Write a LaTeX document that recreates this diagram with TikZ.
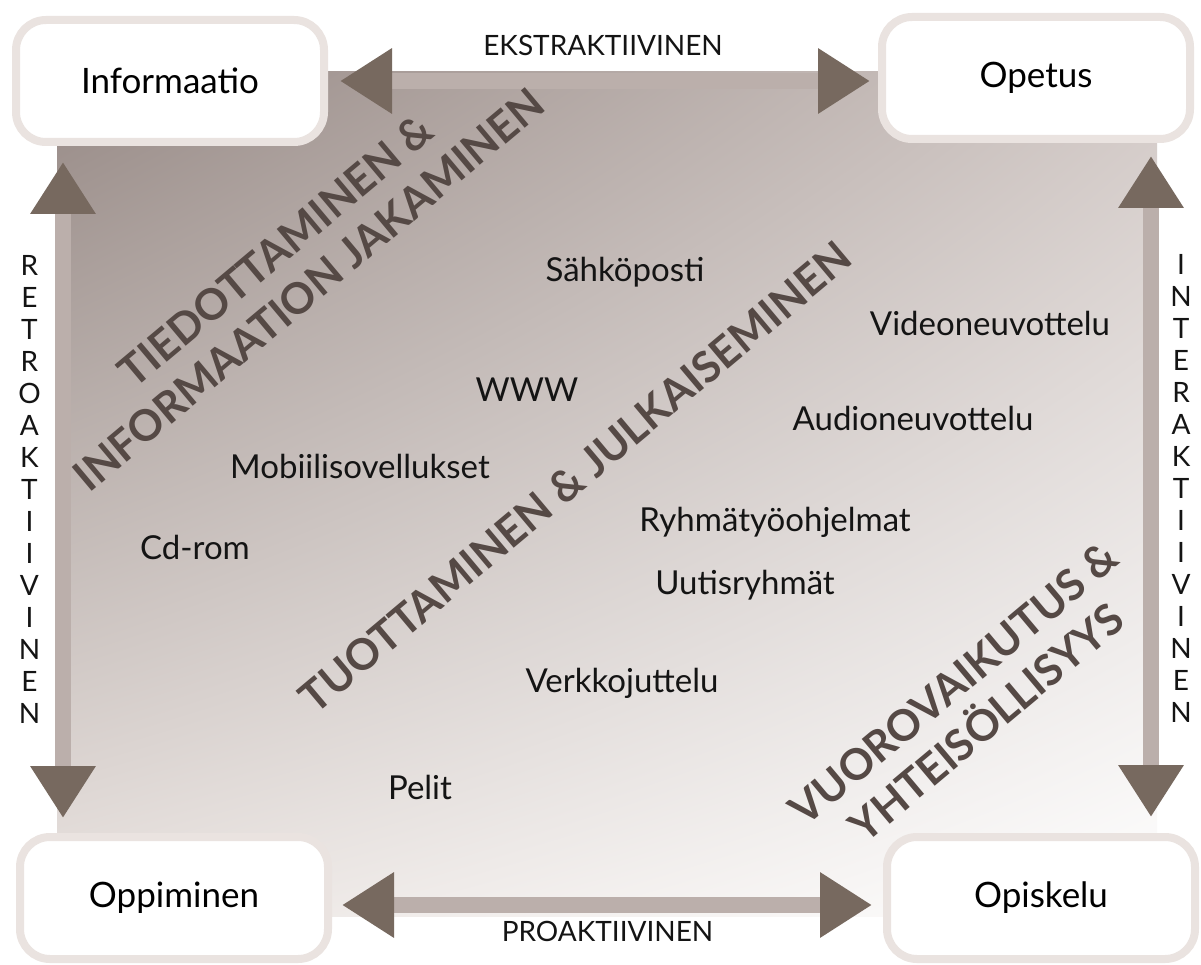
\documentclass[tikz,border=0pt]{standalone}
\usepackage{fontspec}
\setmainfont{Lato}
\usepackage{xcolor}
\usetikzlibrary{arrows.meta,shadings}

\definecolor{boxline}{HTML}{EAE3E0}
\definecolor{headc}{HTML}{77695F}
\definecolor{barc}{HTML}{BBAFAB}
\definecolor{diagc}{HTML}{554945}
\definecolor{bgTL}{HTML}{968985}
\definecolor{bgTR}{HTML}{D2C9C6}
\definecolor{bgBL}{HTML}{EAE4E1}

\begin{document}
\begin{tikzpicture}[x=1pt, y=-1pt,
  corner/.style={draw=boxline, line width=8pt, fill=white, rounded corners=30pt,
    minimum width=308pt, minimum height=122pt, font=\fontsize{35}{40}\selectfont},
  item/.style={font=\fontsize{33}{38}\selectfont, text=black!92},
  theme/.style={rotate=40, align=center, text=diagc, font=\fontsize{43}{51}\selectfont\bfseries},
  flow/.style={draw=barc, line width=16pt,
    {Triangle[length=52pt,width=62pt,color=headc]}-{Triangle[length=52pt,width=62pt,color=headc]}},
  axis/.style={font=\fontsize{28}{32}\selectfont, text=black!92},
  vaxis/.style={font=\fontsize{28}{32}\selectfont, text=black!92, align=center}]

\useasboundingbox[fill=white] (0,0) rectangle (1201,965);
\shade[upper left=bgTL, upper right=bgTR, lower left=bgBL, lower right=white] (57,72) rectangle (1157,916);

\node[corner] (info) at (170,81) {Informaatio};
\node[corner] (opetus) at (1036,78) {Opetus};
\node[corner] (oppi) at (174,898) {Oppiminen};
\node[corner] (opis) at (1041,898) {Opiskelu};

\draw[flow, shorten <=12pt, shorten >=8pt] (info.east) -- (info.east -| opetus.west)
    node[midway, above=14pt, axis] (ekstra) {EKSTRAKTIIVINEN};
\draw[flow, shorten <=10pt, shorten >=11pt] ([yshift=-7pt]oppi.east) -- ([yshift=-7pt]oppi.east -| opis.west)
    node[midway, below=5pt, axis] (pro) {PROAKTIIVINEN};
\draw[flow, shorten <=16pt, shorten >=15pt] ([xshift=51pt]info.south west) -- ([xshift=51pt]info.south west |- oppi.north)
    node[midway, left=11pt, vaxis] (retro) {R\\E\\T\\R\\O\\A\\K\\T\\I\\I\\V\\I\\N\\E\\N};
\draw[flow, shorten <=13pt, shorten >=16pt] ([xshift=-43pt]opetus.south east) -- ([xshift=-43pt]opetus.south east |- opis.north)
    node[midway, right=8pt, vaxis] (inter) {I\\N\\T\\E\\R\\A\\K\\T\\I\\I\\V\\I\\N\\E\\N};

\node[theme] (tiedot) at (292,270) {TIEDOTTAMINEN \&\\INFORMAATION JAKAMINEN};
\node[theme] (tuotto) at (575,477) {TUOTTAMINEN \& JULKAISEMINEN};
\node[theme] (vuoro) at (970,703) {VUOROVAIKUTUS \&\\YHTEISÖLLISYYS};

\node[item] (sposti) at (625,272) {Sähköposti};
\node[item] (video) at (990,323) {Videoneuvottelu};
\node[item] (www) at (527,390) {WWW};
\node[item] (audio) at (913,418) {Audioneuvottelu};
\node[item] (mobiili) at (360,466) {Mobiilisovellukset};
\node[item] (cdrom) at (195,547) {Cd-rom};
\node[item] (ryhma) at (775,522) {Ryhmätyöohjelmat};
\node[item] (uutis) at (745,585) {Uutisryhmät};
\node[item] (verkko) at (622,683) {Verkkojuttelu};
\node[item] (pelit) at (420,787) {Pelit};

\end{tikzpicture}
\end{document}
